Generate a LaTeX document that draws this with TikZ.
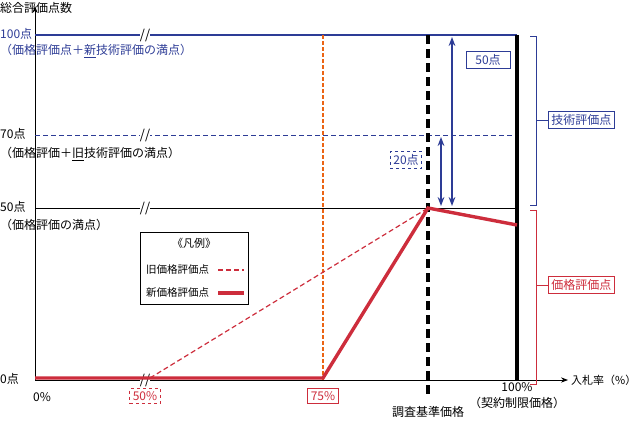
\documentclass[tikz,border=0pt]{standalone}
\usepackage{fontspec}
\setmainfont{Noto Sans CJK JP}
\usetikzlibrary{arrows.meta,positioning,decorations.pathreplacing}
\definecolor{tblue}{RGB}{45,60,150}
\definecolor{tred}{RGB}{205,45,60}
\definecolor{torange}{RGB}{235,100,20}
\begin{document}
\begin{tikzpicture}[
    x=1pt, y=-1pt,
    font=\fontsize{12}{14}\selectfont,
    lbl/.style={anchor=west, inner sep=0pt},
    redline/.style={tred, line width=3.4pt},
    olddash/.style={tred, dash pattern=on 5pt off 3pt, line width=1.2pt},
    tag/.style={draw, inner sep=3pt, line width=0.8pt},
    brk/.style={fill=white, inner sep=0pt, font=\fontsize{13}{13}\selectfont}
]
    \useasboundingbox (0,0) rectangle (640,429);

    % Axes
    \coordinate (o) at (35,380);
    \coordinate (ytop) at (35,6);
    \coordinate (xend) at (568,380);
    \draw[line width=0.8pt, -{Stealth[length=7pt]}] (o) -- (ytop);
    \draw[line width=0.8pt, -{Stealth[length=7pt]}] (o) -- (xend);
    \node[lbl] (ytitle) at (0,8) {総合評価点数};
    \node[lbl, font=\fontsize{11}{13}\selectfont] (xtitle) at (571,380) {入札率（\%）};

    % Levels
    \coordinate (l100) at (35,35);   \coordinate (r100) at (517,35);
    \coordinate (l70) at (35,135);   \coordinate (r70) at (517,135);
    \coordinate (l50) at (35,208);   \coordinate (r50) at (517,208);
    \draw[tblue, line width=1.2pt] (l100) -- (r100);
    \draw[tblue, line width=1pt, dash pattern=on 5pt off 3pt] (l70) -- (r70);
    \draw[line width=1pt] (l50) -- (r50);
    \node[lbl, tblue] (p100) at (0,34) {100点};
    \node[lbl, tblue] (d100) at (0,51) {（価格評価点＋\underline{新}技術評価の満点）};
    \node[lbl] (p70) at (0,134) {70点};
    \node[lbl] (d70) at (0,154) {（価格評価＋\underline{旧}技術評価の満点）};
    \node[lbl] (p50) at (0,207) {50点};
    \node[lbl] (d50) at (0,225) {（価格評価の満点）};
    \node[lbl] (p0) at (0,379) {0点};

    % Breaks
    \foreach \yy in {35,135,208,380}
        \node[brk] at (145,\yy) {//};

    % Verticals
    \coordinate (v75t) at (323,35);  \coordinate (v75b) at (323,380);
    \coordinate (vkt) at (428,35);   \coordinate (vkb) at (428,398);
    \coordinate (vct) at (517,35);   \coordinate (vcb) at (517,380);
    \draw[torange, line width=1.2pt, dash pattern=on 4pt off 2pt] (v75t) -- (v75b);
    \draw[line width=3.2pt, dash pattern=on 9pt off 5pt] (vkt) -- (vkb);
    \draw[line width=3.6pt] (vct) -- (vcb);

    % Price scores
    \coordinate (k) at (428,208);
    \coordinate (s50) at (150,378);
    \coordinate (c100) at (517,225);
    \draw[olddash] (s50) -- (k);
    \draw[redline] (35,378) -- (323,378) -- (k) -- (c100);

    % X labels
    \node[lbl] (x0) at (33,397) {0\%};
    \node[tag, tred, dashed] (x50) at (145,396) {50\%};
    \node[tag, tred] (x75) at (323,396) {75\%};
    \node (xk) at (428,412) {調査基準価格};
    \node (x100) at (517,387) {100\%};
    \node (x100d) at (517,403) {（契約制限価格）};

    % Differences
    \coordinate (a50t) at (452,37);  \coordinate (a50b) at (452,206);
    \coordinate (a20t) at (441,137); \coordinate (a20b) at (441,206);
    \draw[tblue, line width=2.2pt, {Stealth[length=9pt]}-{Stealth[length=9pt]}] (a50t) -- (a50b);
    \draw[tblue, line width=2.2pt, {Stealth[length=9pt]}-{Stealth[length=9pt]}] (a20t) -- (a20b);
    \node[tag, tblue, minimum width=44pt] (t50) at (488,60) {50点};
    \node[tag, tblue, dashed] (t20) at (406,160) {20点};

    % Legend
    \node[draw, line width=0.8pt, minimum width=108pt, minimum height=72pt] (legend) at (194,268) {};
    \node[font=\fontsize{11}{13}\selectfont] (lgt) at (194,243) {《凡例》};
    \node[lbl, font=\fontsize{10.5}{12}\selectfont] (lgold) at (146,270) {旧価格評価点};
    \node[lbl, font=\fontsize{10.5}{12}\selectfont] (lgnew) at (146,293) {新価格評価点};
    \draw[olddash] (218,270) -- (244,270);
    \draw[redline] (218,293) -- (244,293);

    % Brackets
    \draw[tblue, line width=0.8pt] (530,36) -- (536,36) -- (536,205) -- (530,205);
    \draw[tblue, line width=0.8pt] (536,120) -- (548,120);
    \node[tag, tblue, anchor=west] (btech) at (548,120) {技術評価点};
    \draw[tred, line width=0.8pt] (530,210) -- (536,210) -- (536,384) -- (530,384);
    \draw[tred, line width=0.8pt] (536,285) -- (548,285);
    \node[tag, tred, anchor=west] (bprice) at (548,285) {価格評価点};
\end{tikzpicture}
\end{document}
